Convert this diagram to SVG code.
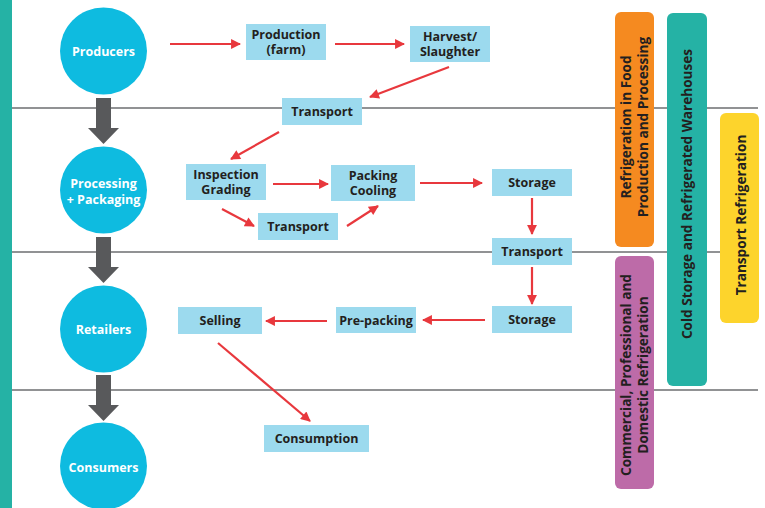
<svg xmlns="http://www.w3.org/2000/svg" width="765" height="508" viewBox="0 0 765 508">
<defs>
<marker id="ah" viewBox="0 0 10 10" refX="9" refY="5" markerWidth="5" markerHeight="4.5" orient="auto" markerUnits="strokeWidth">
<path d="M0,0 L10,5 L0,10 z" fill="#E8383D"/>
</marker>
<style>
.lane{stroke:#6D6E70;stroke-width:1.5;}
.stage{fill:#0EBBE0;}
.stage-t{fill:#fff;font-family:"Open Sans","DejaVu Sans",sans-serif;font-weight:bold;font-size:12.5px;text-anchor:middle;}
.box{fill:#9CDAEE;}
.box-t{fill:#231F20;font-family:"Open Sans","DejaVu Sans",sans-serif;font-weight:bold;font-size:12.5px;text-anchor:middle;}
.flow{stroke:#E8383D;stroke-width:2.2;fill:none;marker-end:url(#ah);}
.big{fill:#58595B;}
.bar-t{fill:#231F20;font-family:"Open Sans","DejaVu Sans",sans-serif;font-weight:bold;font-size:13.6px;text-anchor:middle;}
</style>
</defs>
<rect x="0" y="0" width="12" height="508" fill="#25B2A5"/>
<g id="lanes">
<line class="lane" x1="12" y1="108" x2="758" y2="108"/>
<line class="lane" x1="12" y1="252" x2="758" y2="252"/>
<line class="lane" x1="12" y1="390" x2="758" y2="390"/>
</g>
<g id="stage-arrows">
<path class="big" d="M96,98 H111 V128 H119 L103.5,144 L88,128 H96 Z"/>
<path class="big" d="M96,237 H111 V267 H119 L103.5,283 L88,267 H96 Z"/>
<path class="big" d="M96,375 H111 V405 H119 L103.5,421 L88,405 H96 Z"/>
</g>
<g id="producers"><circle class="stage" cx="103.5" cy="51" r="43.5"/><text class="stage-t" x="103.5" y="55.5">Producers</text></g>
<g id="processing"><circle class="stage" cx="103.5" cy="190" r="43.5"/><text class="stage-t" x="103.5" y="188">Processing</text><text class="stage-t" x="103.5" y="204">+ Packaging</text></g>
<g id="retailers"><circle class="stage" cx="103.5" cy="329" r="43.5"/><text class="stage-t" x="103.5" y="333.5">Retailers</text></g>
<g id="consumers"><circle class="stage" cx="103.5" cy="466" r="43.5"/><text class="stage-t" x="103.5" y="471.5">Consumers</text></g>

<g id="production"><rect class="box" x="246" y="24" width="80" height="36"/><text class="box-t" x="286" y="38.5">Production</text><text class="box-t" x="286" y="54">(farm)</text></g>
<g id="harvest"><rect class="box" x="410" y="26" width="80" height="36"/><text class="box-t" x="450" y="40.5">Harvest/</text><text class="box-t" x="450" y="56">Slaughter</text></g>
<g id="transport1"><rect class="box" x="282" y="98" width="80" height="27"/><text class="box-t" x="322" y="116">Transport</text></g>
<g id="inspection"><rect class="box" x="186" y="164" width="80" height="36"/><text class="box-t" x="226" y="178.5">Inspection</text><text class="box-t" x="226" y="194">Grading</text></g>
<g id="packing"><rect class="box" x="331" y="165" width="84" height="36"/><text class="box-t" x="373" y="179.5">Packing</text><text class="box-t" x="373" y="195">Cooling</text></g>
<g id="transport2"><rect class="box" x="258" y="213" width="80" height="27"/><text class="box-t" x="298" y="231">Transport</text></g>
<g id="storage1"><rect class="box" x="492" y="169" width="80" height="27"/><text class="box-t" x="532" y="187">Storage</text></g>
<g id="transport3"><rect class="box" x="492" y="238" width="80" height="27"/><text class="box-t" x="532" y="256">Transport</text></g>
<g id="storage2"><rect class="box" x="492" y="306" width="80" height="27"/><text class="box-t" x="532" y="324">Storage</text></g>
<g id="prepacking"><rect class="box" x="336" y="307" width="80" height="26"/><text class="box-t" x="376" y="324.5">Pre-packing</text></g>
<g id="selling"><rect class="box" x="178" y="307" width="84" height="27"/><text class="box-t" x="220" y="324.5">Selling</text></g>
<g id="consumption"><rect class="box" x="264" y="425" width="105" height="27"/><text class="box-t" x="316.5" y="443">Consumption</text></g>

<g id="connectors">
<line class="flow" x1="170" y1="44" x2="240" y2="44"/>
<line class="flow" x1="335" y1="44" x2="404" y2="44"/>
<line class="flow" x1="449" y1="67" x2="370" y2="97"/>
<line class="flow" x1="279" y1="132" x2="231" y2="159"/>
<line class="flow" x1="273" y1="184" x2="328" y2="184"/>
<line class="flow" x1="222" y1="209" x2="254" y2="226"/>
<line class="flow" x1="347" y1="226" x2="378" y2="206"/>
<line class="flow" x1="420" y1="183" x2="482" y2="183"/>
<line class="flow" x1="532" y1="198" x2="532" y2="234"/>
<line class="flow" x1="532" y1="267" x2="532" y2="304"/>
<line class="flow" x1="485" y1="320" x2="423" y2="320"/>
<line class="flow" x1="327" y1="321" x2="266" y2="321"/>
<line class="flow" x1="218" y1="343" x2="310" y2="421"/>
</g>

<g id="bar-food"><rect x="615" y="12" width="39" height="235" rx="6" fill="#F58A20"/><text class="bar-t" transform="translate(631,127) rotate(-90)">Refrigeration in Food</text><text class="bar-t" transform="translate(647.5,127) rotate(-90)">Production and Processing</text></g>
<g id="bar-cold"><rect x="667" y="13" width="40" height="373" rx="6" fill="#25B2A5"/><text class="bar-t" transform="translate(692,194) rotate(-90)">Cold Storage and Refrigerated Warehouses</text></g>
<g id="bar-transport"><rect x="720" y="113" width="39" height="210" rx="6" fill="#FDD42C"/><text class="bar-t" transform="translate(746,215) rotate(-90)">Transport Refrigeration</text></g>
<g id="bar-commercial"><rect x="615" y="256" width="39" height="233" rx="6" fill="#BD6BA8"/><text class="bar-t" transform="translate(630.5,375) rotate(-90)">Commercial, Professional and</text><text class="bar-t" transform="translate(647.5,375) rotate(-90)">Domestic Refrigeration</text></g>
</svg>
